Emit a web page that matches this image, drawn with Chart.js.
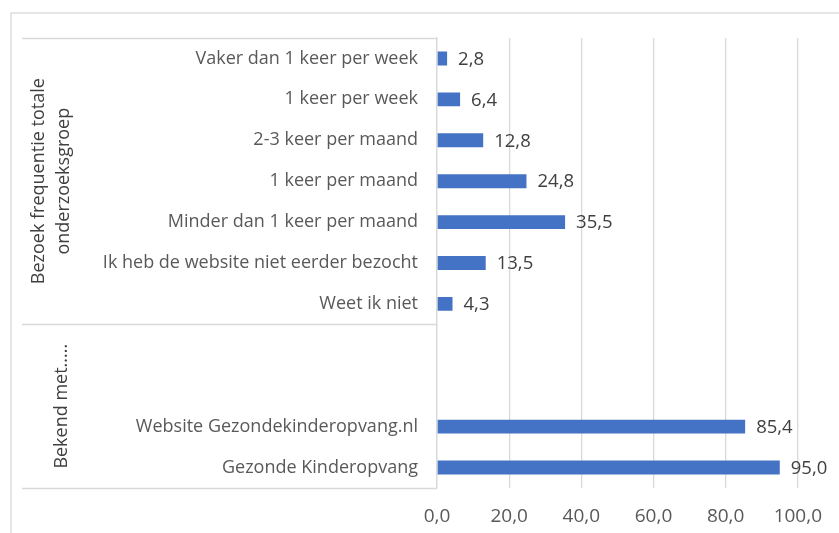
<!DOCTYPE html>
<html>
<head>
<meta charset="utf-8">
<script src="https://cdn.jsdelivr.net/npm/chart.js@4.4.1/dist/chart.umd.min.js"></script>
<style>
  html, body { margin: 0; padding: 0; background: #fff; }
  #wrap { width: 839px; height: 533px; }
</style>
</head>
<body>
<div id="wrap"><canvas id="chart" width="839" height="533"></canvas></div>
<script>
// Data
const categories = [
  "Vaker dan 1 keer per week",
  "1 keer per week",
  "2-3 keer per maand",
  "1 keer per maand",
  "Minder dan 1 keer per maand",
  "Ik heb de website niet eerder bezocht",
  "Weet ik niet",
  "",
  "",
  "Website Gezondekinderopvang.nl",
  "Gezonde Kinderopvang"
];
const values = [2.8, 6.4, 12.8, 24.8, 35.5, 13.5, 4.3, null, null, 85.4, 95.0];
const groupLabels = [["Bezoek frequentie totale", "onderzoeksgroep"], ["Bekend met....."]];
const groupStart = [0, 7];
const groupEnd = [6, 10];
const xTicks = [0, 20, 40, 60, 80, 100];

const FONT = "'Open Sans'";
const fmt = (v) => v.toFixed(1).replace(".", ",");

// outer frame + group bracket lines / labels
const groupPlugin = {
  id: "groups",
  beforeDraw(chart) {
    const ctx = chart.ctx;
    ctx.save();
    ctx.strokeStyle = "#d9d9d9";
    ctx.lineWidth = 1.3;
    ctx.strokeRect(11, 13, 1000, 1000);
    ctx.restore();
  },
  afterDraw(chart) {
    const ctx = chart.ctx;
    const y = chart.scales.y;
    const left = 22;
    const right = chart.chartArea.left;
    ctx.save();
    ctx.strokeStyle = "#d9d9d9";
    ctx.lineWidth = 1.3;
    const edges = [y.getPixelForValue(-0.5)];
    groupEnd.forEach((e) => edges.push(y.getPixelForValue(e + 0.5)));
    edges.forEach((py) => {
      ctx.beginPath();
      ctx.moveTo(left, Math.round(py) + 0.5);
      ctx.lineTo(right, Math.round(py) + 0.5);
      ctx.stroke();
    });
    ctx.fillStyle = "#404040";
    ctx.font = "18px " + FONT;
    ctx.textAlign = "center";
    ctx.textBaseline = "middle";
    groupLabels.forEach((lines, g) => {
      const cy = (y.getPixelForValue(groupStart[g] - 0.5) + y.getPixelForValue(groupEnd[g] + 0.5)) / 2;
      const lh = 25;
      const cx = lines.length > 1 ? 51 : 62;
      ctx.save();
      ctx.translate(cx, cy);
      ctx.rotate(-Math.PI / 2);
      lines.forEach((t, i) => {
        ctx.fillText(t, 0, (i - (lines.length - 1) / 2) * lh);
      });
      ctx.restore();
    });
    ctx.restore();
  }
};

// value labels next to bars
const valueLabels = {
  id: "valueLabels",
  afterDatasetsDraw(chart) {
    const ctx = chart.ctx;
    const meta = chart.getDatasetMeta(0);
    ctx.save();
    ctx.fillStyle = "#404040";
    ctx.font = "18.5px " + FONT;
    ctx.textAlign = "left";
    ctx.textBaseline = "middle";
    meta.data.forEach((bar, i) => {
      if (values[i] === null) return;
      ctx.fillText(fmt(values[i]), bar.x + 11, bar.y + 1);
    });
    ctx.restore();
  }
};

new Chart(document.getElementById("chart"), {
  type: "bar",
  data: {
    labels: categories,
    datasets: [{
      data: values,
      backgroundColor: "#4472c4",
      borderWidth: 0,
      categoryPercentage: 1,
      barPercentage: 0.34
    }]
  },
  plugins: [groupPlugin, valueLabels],
  options: {
    indexAxis: "y",
    responsive: false,
    animation: false,
    layout: { padding: { top: 38, right: 41, left: 0, bottom: 0 } },
    plugins: { legend: { display: false }, tooltip: { enabled: false } },
    scales: {
      x: {
        min: 0,
        max: 100,
        afterBuildTicks: (scale) => { scale.ticks = xTicks.map((v) => ({ value: v })); },
        afterFit: (scale) => { scale.height = 45; },
        grid: { color: "#d9d9d9", lineWidth: 1.3, drawTicks: false },
        border: { display: false },
        ticks: {
          padding: 17,
          color: "#595959",
          font: { family: FONT, size: 19 },
          callback: (v) => fmt(v)
        }
      },
      y: {
        afterFit: (scale) => { scale.width = 437; },
        grid: { display: false, drawTicks: false },
        border: { display: true, color: "#d9d9d9", width: 1.3 },
        ticks: {
          autoSkip: false,
          padding: 19,
          color: "#595959",
          font: { family: FONT, size: 18 }
        }
      }
    }
  }
});
</script>
</body>
</html>
